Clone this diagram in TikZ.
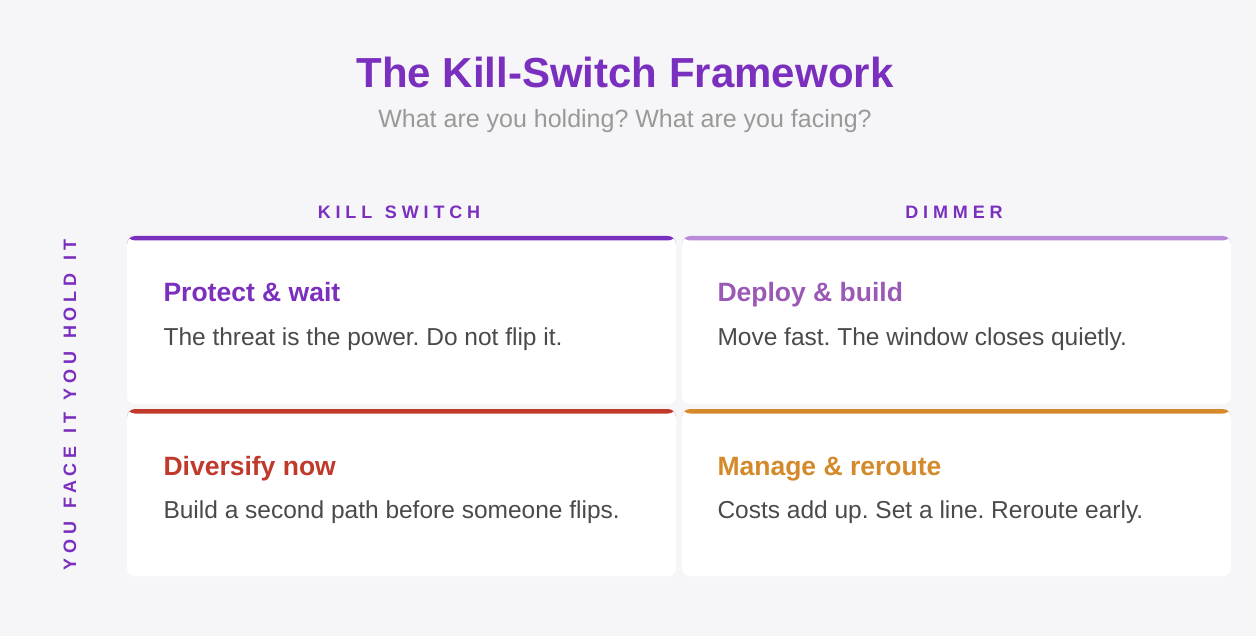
\documentclass[tikz,border=0pt]{standalone}
\usepackage{fontspec}
\setmainfont{Liberation Sans}
\newfontfamily\capsfont{Liberation Sans}[LetterSpace=27]
\frenchspacing
\usetikzlibrary{positioning}
\definecolor{pagebg}{RGB}{246,246,248}
\definecolor{violet}{RGB}{123,47,190}
\definecolor{lilac}{RGB}{185,139,218}
\definecolor{plum}{RGB}{155,89,182}
\definecolor{brick}{RGB}{192,57,43}
\definecolor{amber}{RGB}{212,137,42}
\definecolor{ink}{RGB}{74,74,74}
\definecolor{mist}{RGB}{153,153,153}
\newcommand{\wordgap}{\hspace{0.7em}}

\begin{document}
\begin{tikzpicture}[x=1pt,y=-1pt,
    card/.style={fill=white, rounded corners=8pt, inner sep=0pt,
      minimum width=549pt, minimum height=168pt,
      path picture={\fill[#1] (path picture bounding box.north west)
        rectangle ([yshift=-4.5pt]path picture bounding box.north east);}},
    cardtitle/.style={anchor=base west, text=#1, font=\fontsize{26.5}{31}\selectfont\bfseries},
    cardtext/.style={anchor=base west, text=ink, font=\fontsize{24.5}{29}\selectfont},
    axislabel/.style={text=violet, font=\fontsize{18}{22}\capsfont\bfseries}]
  \useasboundingbox (0,0) rectangle (1256,636);
  \fill [pagebg] (0,0) rectangle (1256,636);

  % heading
  \node [anchor=base, text=violet, font=\fontsize{42}{50}\selectfont\bfseries] (title) at (625,88) {The Kill-Switch Framework};
  \node [anchor=base, text=mist, font=\fontsize{25}{30}\selectfont] (subtitle) at (625,128) {What are you holding? What are you facing?};

  % axes
  \node [axislabel, anchor=base] (colkill) at (399,219) {KILL\wordgap SWITCH};
  \node [axislabel, anchor=base] (coldim) at (954,219) {DIMMER};
  \node [axislabel, rotate=90] (rowaxis) at (70,405) {YOU\wordgap FACE\wordgap IT\wordgap YOU\wordgap HOLD\wordgap IT};

  % quadrants
  \node [card=violet] (protect) at (401.5,320) {};
  \node [card=lilac] (deploy) at (956.5,320) {};
  \node [card=brick, minimum height=167pt] (diversify) at (401.5,492.5) {};
  \node [card=amber, minimum height=167pt] (manage) at (956.5,492.5) {};

  \node [cardtitle=violet] (protecttitle) at (160,302) {Protect \& wait};
  \node [cardtext] (protecttext) at (160,345) {The threat is the power. Do not flip it.};
  \node [cardtitle=plum] (deploytitle) at (714,302) {Deploy \& build};
  \node [cardtext] (deploytext) at (714,345) {Move fast. The window closes quietly.};
  \node [cardtitle=brick] (diversifytitle) at (160,475) {Diversify now};
  \node [cardtext] (diversifytext) at (160,518) {Build a second path before someone flips.};
  \node [cardtitle=amber] (managetitle) at (714,475) {Manage \& reroute};
  \node [cardtext] (managetext) at (714,518) {Costs add up. Set a line. Reroute early.};
\end{tikzpicture}
\end{document}
